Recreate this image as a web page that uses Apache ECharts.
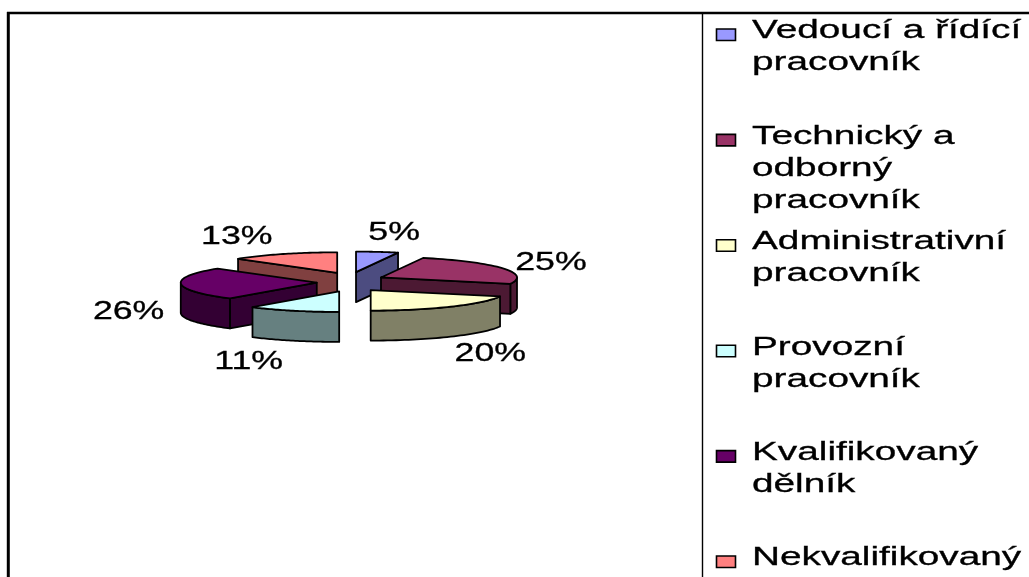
<!DOCTYPE html>
<html><head><meta charset="utf-8">
<script src="https://cdn.jsdelivr.net/npm/echarts@6/dist/echarts.min.js"></script>
<style>html,body{margin:0;padding:0;background:#fff}#c{width:1029px;height:577px}</style>
</head><body><div id="c"></div>
<script>
// ---- data ----
const categories = ['Vedoucí a řídící pracovník', 'Technický a odborný pracovník', 'Administrativní pracovník', 'Provozní pracovník', 'Kvalifikovaný dělník', 'Nekvalifikovaný dělník'];
const legendLines = ['Vedoucí a řídící\npracovník', 'Technický a\nodborný\npracovník', 'Administrativní\npracovník', 'Provozní\npracovník', 'Kvalifikovaný\ndělník', 'Nekvalifikovaný\ndělník'];
const values = [5, 25, 20, 11, 26, 13];
const topColors = ['#9999FF', '#993366', '#FFFFCC', '#CCFFFF', '#660066', '#FF8080'];
const sideColors = ['#4C4C80', '#4C1933', '#808066', '#668080', '#330033', '#804040'];

// ---- layout ----
const CX = 350.7, CY = 282, A = 136, B = 20.5, D = 30, EX = 34, EY = 10;
const FONT = '"Liberation Sans", Arial, sans-serif';
const total = values.reduce((s, x) => s + x, 0);

function renderItem(params, api) {
  const i = params.dataIndex;
  const v = api.value(0);
  let before = 0;
  for (let k = 0; k < i; k++) before += values[k];
  const t0 = before / total * 2 * Math.PI;
  const t1 = (before + v) / total * 2 * Math.PI;
  const tm = (t0 + t1) / 2;
  const ox = CX + EX * Math.sin(tm), oy = CY - EY * Math.cos(tm);
  const P = (t, dz) => [ox + A * Math.sin(t), oy - B * Math.cos(t) + dz];
  const base = Math.round((oy - CY + 20) * 10);
  const st = { stroke: '#000', lineWidth: 1.8, lineJoin: 'round' };
  const children = [];
  const N = 40;
  // rim side
  const lo = Math.max(t0, Math.PI / 2), hi = Math.min(t1, 1.5 * Math.PI);
  if (hi > lo) {
    const pts = [];
    for (let k = 0; k <= N; k++) pts.push(P(lo + (hi - lo) * k / N, 0));
    for (let k = N; k >= 0; k--) pts.push(P(lo + (hi - lo) * k / N, D));
    children.push({ type: 'polygon', z2: base + 1, shape: { points: pts }, style: Object.assign({ fill: sideColors[i] }, st) });
  }
  const face = (t) => ({ type: 'polygon', z2: base + 2, shape: { points: [[ox, oy], P(t, 0), P(t, D), [ox, oy + D]] }, style: Object.assign({ fill: sideColors[i] }, st) });
  if (Math.cos(t0 - Math.PI / 2) < -1e-6) children.push(face(t0));
  if (Math.cos(t1 + Math.PI / 2) < -1e-6) children.push(face(t1));
  // top
  const tp = [[ox, oy]];
  for (let k = 0; k <= N; k++) tp.push(P(t0 + (t1 - t0) * k / N, 0));
  children.push({ type: 'polygon', z2: base + 3, shape: { points: tp }, style: Object.assign({ fill: topColors[i] }, st) });
  // label
  const s = Math.sin(tm), c = Math.cos(tm);
  const lx = s >= 0 ? 337 + 200 * s : 344 + 180 * s;
  const ly = 299 - 57 * c + (c > 0 ? -10 : 9);
  children.push({
    type: 'text', z2: 1000, x: lx, y: ly, scaleX: 1.4,
    style: { x: 0, y: 0, text: v + '%', font: '25.5px ' + FONT, fill: '#000', stroke: '#000', lineWidth: 0.3, align: s >= 0 ? 'left' : 'right', verticalAlign: 'middle' }
  });
  return { type: 'group', children };
}

const graphics = [
  { type: 'line', shape: { x1: 7, y1: 13, x2: 1029, y2: 13 }, style: { stroke: '#000', lineWidth: 2.5 } },
  { type: 'line', shape: { x1: 8.3, y1: 12, x2: 8.3, y2: 577 }, style: { stroke: '#000', lineWidth: 3 } },
  { type: 'line', shape: { x1: 702.5, y1: 13, x2: 702.5, y2: 577 }, style: { stroke: '#000', lineWidth: 1.4 } }
];
legendLines.forEach((txt, i) => {
  const baseline = 41 + 105.4 * i;
  graphics.push({ type: 'rect', shape: { x: 716.5, y: baseline - 12, width: 19, height: 11.5 }, style: { fill: topColors[i], stroke: '#000', lineWidth: 1.6 } });
  graphics.push({ type: 'text', x: 752, y: baseline - 25.5, scaleX: 1.55,
    style: { x: 0, y: 0, text: txt, font: '25px ' + FONT, lineHeight: 32, fill: '#000', stroke: '#000', lineWidth: 0.3, align: 'left', verticalAlign: 'top' } });
});

const chart = echarts.init(document.getElementById('c'), null, { renderer: 'canvas' });
chart.setOption({
  animation: false,
  backgroundColor: '#fff',
  graphic: graphics,
  series: [{
    type: 'custom',
    coordinateSystem: 'none',
    name: 'share',
    data: values.map((v, i) => ({ name: categories[i], value: [v] })),
    renderItem: renderItem
  }]
});
</script>
</body></html>
